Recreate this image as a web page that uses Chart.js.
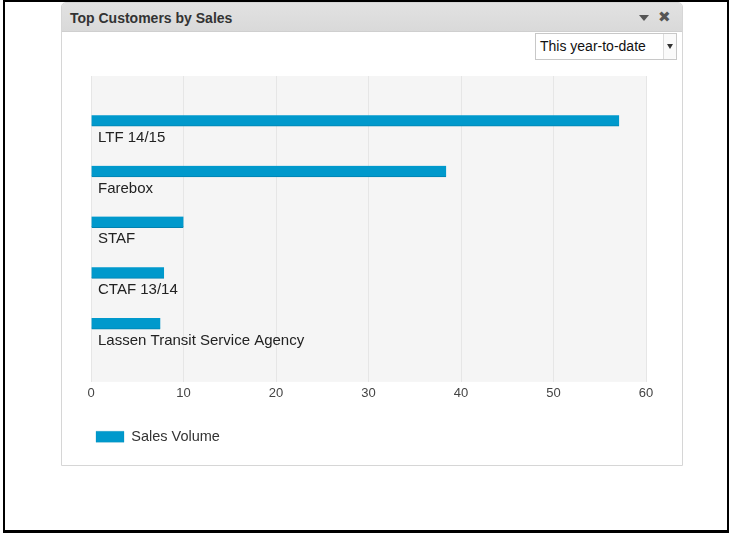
<!DOCTYPE html>
<html>
<head>
<meta charset="utf-8">
<title>Top Customers by Sales</title>
<script src="https://cdn.jsdelivr.net/npm/chart.js@4/dist/chart.umd.min.js"></script>
<style>
  html, body { margin: 0; padding: 0; background: #fff; }
  body { width: 730px; height: 533px; position: relative; overflow: hidden;
         font-family: "Liberation Sans", Arial, sans-serif; }
  .frame { position: absolute; left: 3px; top: 0; width: 726px; height: 533px;
           box-sizing: border-box; border-top: 2px solid #000; border-left: 2px solid #000;
           border-right: 2px solid #000; border-bottom: 3px solid #000; }
  .panel { position: absolute; left: 61px; top: 2px; width: 622px; height: 464px;
           box-sizing: border-box; border: 1px solid #d6d6d6; border-radius: 5px 5px 0 0;
           background: #fff; }
  .header { position: absolute; left: 0; top: 0; right: 0; height: 28px;
            background: linear-gradient(#e2e2e2, #d9d9d9); border-bottom: 1px solid #cfcfcf;
            border-radius: 4px 4px 0 0; }
  .title { position: absolute; left: 8px; top: 7px; font-weight: bold; font-size: 14px;
           color: #333; line-height: 16px; }
  .menu { position: absolute; left: 577px; top: 12px; width: 0; height: 0;
          border-left: 5px solid transparent; border-right: 5px solid transparent;
          border-top: 6px solid #555; }
  .close { position: absolute; left: 596px; top: 5px; font-size: 15px; font-weight: bold;
           color: #555; line-height: 18px; font-family: "DejaVu Sans", sans-serif; }
  .select { position: absolute; left: 535px; top: 33px; width: 142px; height: 27px;
            box-sizing: border-box; border: 1px solid #c8c8c8; background: #fff; }
  .select .txt { position: absolute; left: 4px; top: 4px; font-size: 14px; color: #111;
                 line-height: 17px; }
  .select .btn { position: absolute; right: 0; top: 0; width: 13px; height: 25px;
                 box-sizing: border-box; border-left: 1px solid #ddd;
                 border-radius: 0 0 3px 0; background: #fafafa; }
  .select .btn::after { content: ""; position: absolute; left: 3px; top: 10px;
                        border-left: 3px solid transparent; border-right: 3px solid transparent;
                        border-top: 5px solid #333; }
  .chartbox { position: absolute; left: 62px; top: 31px; width: 621px; height: 435px; }
</style>
</head>
<body>
<div class="frame"></div>
<div class="panel">
  <div class="header">
    <div class="title">Top Customers by Sales</div>
    <div class="menu"></div>
    <div class="close">&#x2716;</div>
  </div>
</div>
<div class="chartbox"><canvas id="chart"></canvas></div>
<div class="select"><div class="txt">This year-to-date</div><div class="btn"></div></div>

<script>
// Customers ranked by sales, largest first
const customers = ['LTF 14/15', 'Farebox', 'STAF', 'CTAF 13/14', 'Lassen Transit Service Agency'];
const salesVolume = [57.1, 38.4, 10.0, 7.9, 7.5];
const seriesLabel = 'Sales Volume';
const xTickMin = 0;
const xTickMax = 60;
const xTickStep = 10;

const barColor = '#0099cc';
const fontFamily = '"Liberation Sans", Arial, sans-serif';

// Light grey plotting background
const plotBackground = {
  id: 'plotBackground',
  beforeDraw(chart) {
    const { ctx, chartArea: a } = chart;
    ctx.save();
    ctx.fillStyle = '#f5f5f5';
    ctx.fillRect(a.left, a.top, a.right - a.left, a.bottom - a.top);
    ctx.restore();
  }
};

// Customer names written inside the plot, just under each bar
const barCaptions = {
  id: 'barCaptions',
  afterDatasetsDraw(chart) {
    const { ctx, scales: { x, y } } = chart;
    ctx.save();
    ctx.font = '15px ' + fontFamily;
    ctx.fillStyle = '#222';
    ctx.textAlign = 'left';
    ctx.textBaseline = 'middle';
    customers.forEach((name, i) => {
      ctx.fillText(name, x.getPixelForValue(0) + 7, y.getPixelForValue(i) + 17);
    });
    ctx.restore();
  }
};

new Chart(document.getElementById('chart'), {
  type: 'bar',
  data: {
    datasets: [{
      label: seriesLabel,
      data: salesVolume.map((v, i) => ({ x: v, y: i })),
      backgroundColor: barColor,
      borderColor: '#0082b0',
      borderWidth: { bottom: 1, top: 0, left: 0, right: 0 },
      borderSkipped: false,
      barThickness: 11
    }]
  },
  options: {
    indexAxis: 'y',
    responsive: true,
    maintainAspectRatio: false,
    animation: false,
    layout: { padding: { top: 45, right: 37, bottom: 12, left: 10 } },
    scales: {
      x: {
        type: 'linear',
        position: 'bottom',
        min: xTickMin,
        max: xTickMax,
        ticks: { stepSize: xTickStep, padding: 4, color: '#444',
                 font: { family: fontFamily, size: 13 } },
        grid: { color: '#e6e6e6', drawTicks: false },
        border: { display: false }
      },
      y: {
        type: 'linear',
        reverse: true,
        offset: false,
        min: -0.88,
        max: 5.15,
        ticks: { display: false },
        grid: { display: false, offset: false },
        border: { display: false },
        afterFit(axis) { axis.width = 19; }
      }
    },
    plugins: {
      legend: {
        position: 'bottom',
        align: 'start',
        labels: {
          boxWidth: 28,
          boxHeight: 11,
          padding: 24,
          color: '#333',
          font: { family: fontFamily, size: 14.5 }
        }
      },
      tooltip: { enabled: false }
    }
  },
  plugins: [plotBackground, barCaptions]
});
</script>
</body>
</html>
